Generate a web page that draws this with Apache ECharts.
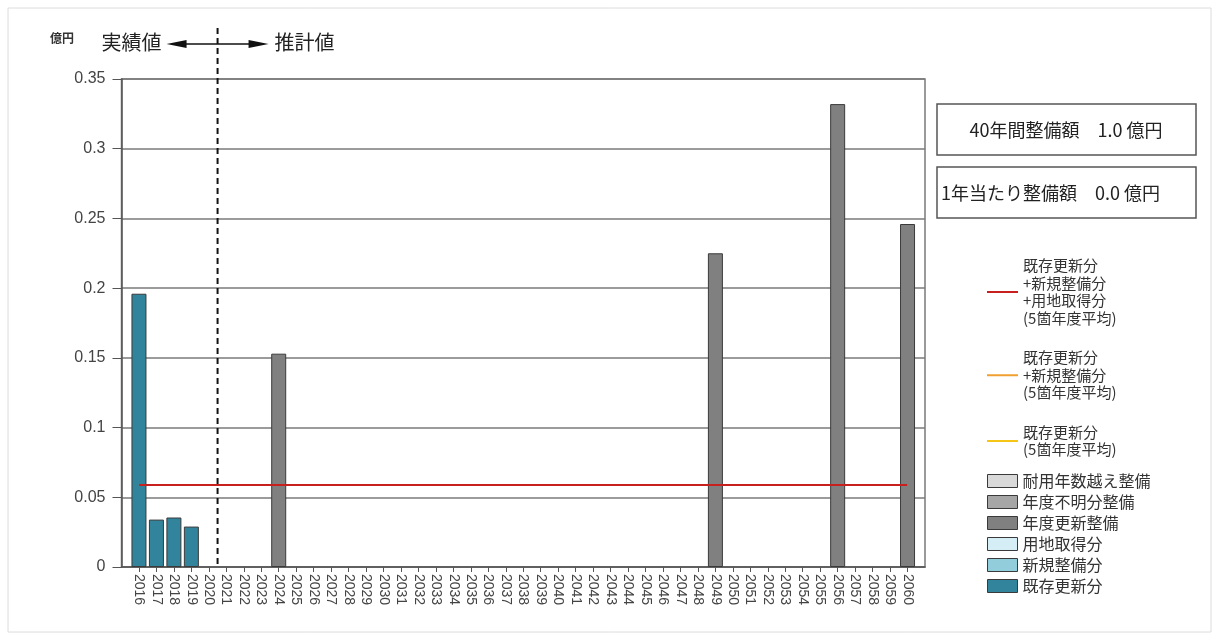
<!DOCTYPE html>
<html>
<head>
<meta charset="utf-8">
<script src="https://cdn.jsdelivr.net/npm/echarts@6/dist/echarts.min.js"></script>
<style>
  html, body { margin: 0; padding: 0; background: #fff; }
  #chart { width: 1218px; height: 639px; }
</style>
</head>
<body>
<div id="chart"></div>
<script>
// data (億円)
const existingYears = [2016, 2017, 2018, 2019]
const existingValues = [0.196, 0.034, 0.0355, 0.029]
const renewYears = [2024, 2049, 2056, 2060]
const renewValues = [0.153, 0.225, 0.332, 0.246]
const avgYears = [2016, 2060]
const avgValue = 0.0588
const splitYear = 2020.5
const yTicks = { min: 0, max: 0.35, step: 0.05 }
const summaryLabels = ['40年間整備額　1.0 億円', '1年当たり整備額　0.0 億円']

const barNames = ['耐用年数越え整備', '年度不明分整備', '年度更新整備', '用地取得分', '新規整備分', '既存更新分']
const barColors = ['#d9d9d9', '#a6a6a6', '#808080', '#d5edf4', '#92cddc', '#31849b']
const lineNames = ['既存更新分+新規整備分+用地取得分(5箇年度平均)', '既存更新分+新規整備分(5箇年度平均)', '既存更新分(5箇年度平均)']
const lineLabels = ['既存更新分\n+新規整備分\n+用地取得分\n(5箇年度平均)', '既存更新分\n+新規整備分\n(5箇年度平均)', '既存更新分\n(5箇年度平均)']
const lineColors = ['#c8201e', '#f0a030', '#f5c518']

const font = '"Liberation Sans", "Noto Sans CJK JP", sans-serif'
const jpFont = '"Noto Sans CJK JP", sans-serif'

const pairs = (xs, ys) => xs.map((x, i) => [x, ys[i]])
const barData = {
  '年度更新整備': pairs(renewYears, renewValues),
  '既存更新分': pairs(existingYears, existingValues),
}

const chart = echarts.init(document.getElementById('chart'))

const barSeries = barNames.map((name, i) => ({
  name,
  type: 'bar',
  stack: 'total',
  barWidth: 15,
  data: barData[name] || [],
  itemStyle: { color: barColors[i], borderColor: '#3a3a3a', borderWidth: 1 },
}))

// drawn in reverse so the red one ends on top
const lineSeries = lineNames.map((name, i) => ({
  name,
  type: 'line',
  symbol: 'none',
  z: 10 - i,
  data: avgYears.map(y => [y, avgValue]),
  lineStyle: { color: lineColors[i], width: 2 },
  itemStyle: { color: lineColors[i] },
})).reverse()

chart.setOption({
  animation: false,
  backgroundColor: '#fff',
  textStyle: { fontFamily: font },
  grid: {
    left: 121.5, right: 293, top: 79, bottom: 72,
    show: true, borderColor: '#7a7a7a', borderWidth: 1.5,
  },
  legend: [
    {
      data: lineNames,
      orient: 'vertical',
      left: 982,
      top: 252,
      itemGap: 22,
      itemWidth: 31,
      itemHeight: 2,
      icon: 'rect',
      formatter: n => lineLabels[lineNames.indexOf(n)],
      textStyle: { fontFamily: jpFont, fontSize: 15, lineHeight: 17.5, color: '#333' },
    },
    {
      data: barNames,
      orient: 'vertical',
      left: 982,
      top: 468,
      itemGap: 5,
      itemWidth: 30,
      itemHeight: 13,
      icon: 'rect',
      itemStyle: { borderColor: '#3a3a3a', borderWidth: 1 },
      textStyle: { fontFamily: jpFont, fontSize: 16, lineHeight: 16, color: '#333' },
    },
  ],
  xAxis: {
    type: 'value',
    min: 2015,
    max: 2061,
    interval: 1,
    splitLine: { show: false },
    axisLine: { lineStyle: { color: '#555', width: 1.5 } },
    axisTick: { length: 5, lineStyle: { color: '#555' } },
    axisLabel: {
      rotate: -90,
      showMinLabel: false,
      showMaxLabel: false,
      formatter: v => String(v),
      fontSize: 14,
      color: '#444',
      margin: 7,
    },
  },
  yAxis: {
    type: 'value',
    min: yTicks.min,
    max: yTicks.max,
    interval: yTicks.step,
    axisLine: { show: true, lineStyle: { color: '#555', width: 1.5 } },
    axisTick: { show: true, length: 9, lineStyle: { color: '#555' } },
    splitLine: { lineStyle: { color: '#7a7a7a', width: 1.5 } },
    axisLabel: {
      formatter: v => String(+v.toFixed(2)),
      fontSize: 16,
      color: '#444',
      margin: 16,
    },
  },
  series: [...barSeries, ...lineSeries],
})

// annotations placed from the axis scale
const sx = chart.convertToPixel({ xAxisIndex: 0 }, splitYear)
const y0 = chart.convertToPixel({ yAxisIndex: 0 }, 0)
const arrowY = 44
const graphic = [
  { type: 'rect', shape: { x: 8, y: 8, width: 1203, height: 624 }, style: { fill: 'none', stroke: '#dcdcdc', lineWidth: 1 }, silent: true },
  { type: 'text', x: 50, y: 32, style: { text: '億円', fontFamily: jpFont, fontSize: 12, fontWeight: 'bold', fill: '#333' } },
  { type: 'line', shape: { x1: sx, y1: 28, x2: sx, y2: y0 }, style: { stroke: '#111', lineWidth: 2, lineDash: [6, 4] }, z: 20 },
  { type: 'line', shape: { x1: sx - 40, y1: arrowY, x2: sx + 40, y2: arrowY }, style: { stroke: '#111', lineWidth: 1.5 } },
  { type: 'polygon', shape: { points: [[sx - 51, arrowY], [sx - 31, arrowY - 4], [sx - 31, arrowY + 4]] }, style: { fill: '#111' } },
  { type: 'polygon', shape: { points: [[sx + 51, arrowY], [sx + 31, arrowY - 4], [sx + 31, arrowY + 4]] }, style: { fill: '#111' } },
  { type: 'text', x: sx - 56, y: arrowY - 2, style: { text: '実績値', fontFamily: jpFont, fontSize: 20, fill: '#222', align: 'right', verticalAlign: 'middle' } },
  { type: 'text', x: sx + 57, y: arrowY - 2, style: { text: '推計値', fontFamily: jpFont, fontSize: 20, fill: '#222', align: 'left', verticalAlign: 'middle' } },
]
summaryLabels.forEach((label, i) => {
  const top = 104 + i * 63
  graphic.push(
    { type: 'rect', shape: { x: 937, y: top, width: 259, height: 51 }, style: { fill: '#fff', stroke: '#555', lineWidth: 1.5 } },
    { type: 'text', x: i === 0 ? 1066 : 941, y: top + 26, style: { text: label, fontFamily: jpFont, fontSize: 18, fill: '#222', align: i === 0 ? 'center' : 'left', verticalAlign: 'middle' } }
  )
})
chart.setOption({ graphic })
</script>
</body>
</html>
